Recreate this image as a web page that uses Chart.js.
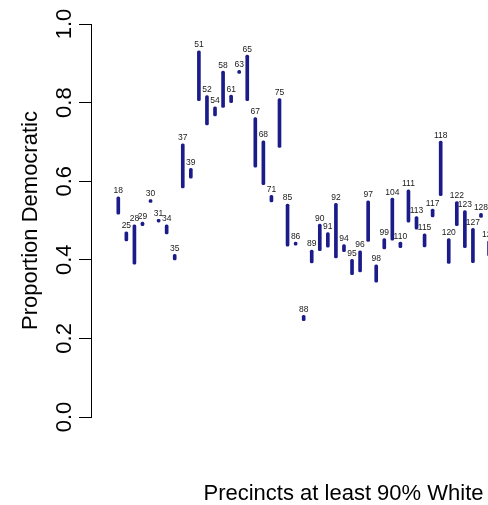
<!DOCTYPE html>
<html>
<head>
<meta charset="utf-8">
<script src="https://cdn.jsdelivr.net/npm/chart.js@4/dist/chart.umd.min.js"></script>
<style>
  html, body { margin: 0; padding: 0; background: #fff; overflow: hidden; }
  #wrap { width: 488px; height: 505px; overflow: hidden; }
</style>
</head>
<body>
<div id="wrap"><canvas id="chart" width="600" height="505"></canvas></div>
<script>
// congress numbers, in plotting order
const congress = [18, 25, 28, 29, 30, 31, 34, 35, 37, 39, 51, 52, 54, 58, 61, 63, 65, 67, 68, 71, 75,
  85, 86, 88, 89, 90, 91, 92, 94, 95, 96, 97, 98, 99, 104, 110, 111, 113, 115, 117, 118, 120,
  122, 123, 127, 128, 129];

// lower / upper ends of each range (proportion democratic)
const lowVals = [0.516, 0.448, 0.389, 0.487, 0.546, 0.496, 0.466, 0.400, 0.583, 0.608, 0.805, 0.743,
  0.766, 0.788, 0.800, 0.874, 0.805, 0.636, 0.591, 0.547, 0.686, 0.435, 0.437, 0.245, 0.392, 0.423,
  0.432, 0.405, 0.421, 0.362, 0.369, 0.447, 0.343, 0.428, 0.450, 0.431, 0.496, 0.478, 0.433, 0.509,
  0.563, 0.391, 0.487, 0.431, 0.393, 0.508, 0.410];
const highVals = [0.560, 0.471, 0.489, 0.496, 0.553, 0.503, 0.489, 0.414, 0.695, 0.633, 0.932, 0.818,
  0.789, 0.880, 0.819, 0.882, 0.921, 0.762, 0.703, 0.564, 0.810, 0.542, 0.445, 0.259, 0.425, 0.491,
  0.469, 0.544, 0.439, 0.401, 0.423, 0.550, 0.387, 0.454, 0.557, 0.445, 0.578, 0.510, 0.466, 0.529,
  0.702, 0.454, 0.548, 0.525, 0.480, 0.518, 0.448];

const yTickLabels = ["0.0", "0.2", "0.4", "0.6", "0.8", "1.0"];

const FONT = "'Liberation Sans', Arial, Helvetica, sans-serif";
const barColor = "#1b1b8a";

const points = congress.map((c, i) => ({ x: i, y: [lowVals[i], highVals[i]] }));

// numbers above each bar
const barLabels = {
  id: "barLabels",
  afterDatasetsDraw(chart) {
    const xs = chart.scales.x;
    const ys = chart.scales.y;
    const ctx = chart.ctx;
    ctx.save();
    ctx.font = "8.5px " + FONT;
    ctx.fillStyle = "#1a1a1a";
    ctx.textAlign = "center";
    ctx.textBaseline = "alphabetic";
    congress.forEach((c, i) => {
      const px = xs.getPixelForValue(i);
      const py = ys.getPixelForValue(highVals[i]);
      ctx.fillText(String(c), px, py - 3.5);
    });
    ctx.restore();
  }
};

new Chart(document.getElementById("chart"), {
  type: "bar",
  data: {
    datasets: [{
      data: points,
      backgroundColor: barColor,
      borderWidth: 0,
      borderRadius: 1.5,
      borderSkipped: false,
      barThickness: 3
    }]
  },
  options: {
    responsive: false,
    devicePixelRatio: 1,
    animation: false,
    layout: { padding: { top: 24, right: 4, left: 0, bottom: 0 } },
    plugins: {
      legend: { display: false },
      tooltip: { enabled: false }
    },
    scales: {
      x: {
        type: "linear",
        offset: false,
        min: -3.387,
        max: 59.27,
        grid: { display: false },
        border: { display: false },
        ticks: { display: false },
        title: {
          display: true,
          text: "Precincts at least 90% White",
          color: "#000",
          font: { family: FONT, size: 22, lineHeight: 1.05 },
          padding: { top: 0, bottom: 0 }
        },
        afterFit: (s) => { s.height = 88; }
      },
      y: {
        min: 0,
        max: 1,
        grid: { display: true, drawOnChartArea: false, drawTicks: true, tickLength: 12, color: "#000", lineWidth: 1 },
        border: { display: true, color: "#000", width: 1 },
        ticks: {
          stepSize: 0.2,
          minRotation: 90,
          maxRotation: 90,
          crossAlign: "center",
          padding: -1.3,
          color: "#000",
          font: { family: FONT, size: 22 },
          callback: (v, i) => yTickLabels[i]
        },
        title: {
          display: true,
          text: "Proportion Democratic",
          color: "#000",
          font: { family: FONT, size: 22 },
          padding: { top: 17.5, bottom: 0 }
        },
        afterFit: (s) => { s.width = 91; }
      }
    }
  },
  plugins: [barLabels]
});
</script>
</body>
</html>
